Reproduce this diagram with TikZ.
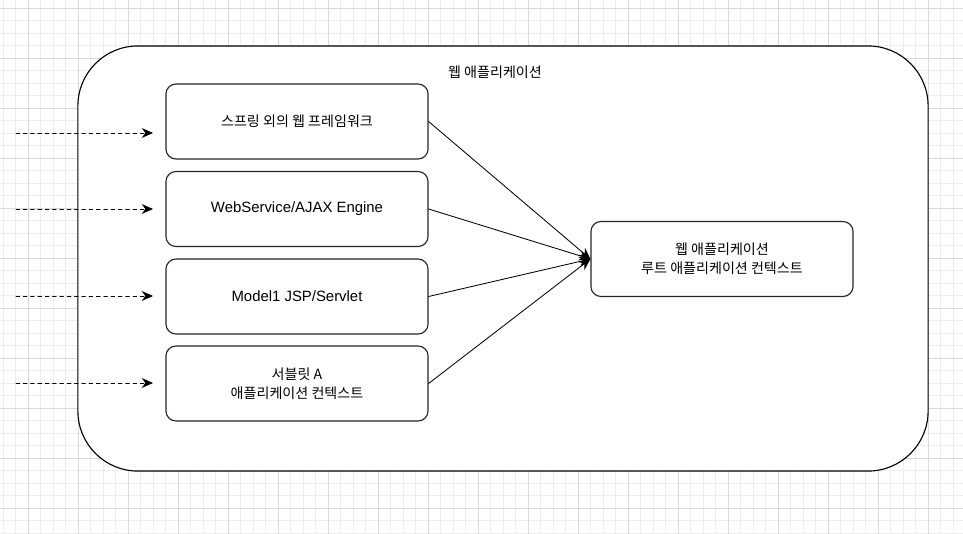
\documentclass[tikz,border=0pt]{standalone}
\usepackage{fontspec}
\setmainfont{Liberation Sans}
\newfontfamily\krfont{Noto Sans CJK KR}
\usepackage{tikz}
\usetikzlibrary{positioning,calc,arrows.meta}

\begin{document}
\begin{tikzpicture}[
	x=0.025cm,y=-0.025cm,
	>=Stealth,
	line cap=round,line join=round,
	font=\fontsize{10.6}{13}\selectfont,
	box/.style={draw=black!85, line width=0.8pt, rounded corners=0.25cm,
		fill=white, minimum width=6.55cm, minimum height=1.875cm, align=center},
	kr/.style={font=\krfont\fontsize{10}{13.8}\selectfont},
	link/.style={->, black, line width=0.6pt, -{Stealth[length=8pt,width=7pt]}},
	feed/.style={->, black, line width=0.6pt, dashed, dash pattern=on 2.6pt off 2.6pt,
		-{Stealth[length=8pt,width=7pt]}}
	]
	%----- page + background grid
	\useasboundingbox (0,0) rectangle (963,534);
	\fill[white] (0,0) rectangle (963,534);
	\foreach \gx in {3,15.5,...,963}{
		\draw[black!7, line width=0.4pt] (\gx,0) -- (\gx,534);
	}
	\foreach \gy in {8,20.5,...,534}{
		\draw[black!7, line width=0.4pt] (0,\gy) -- (963,\gy);
	}
	\foreach \gx in {28,78,...,963}{
		\draw[black!15, line width=0.4pt] (\gx,0) -- (\gx,534);
	}
	\foreach \gy in {8,58,...,534}{
		\draw[black!15, line width=0.4pt] (0,\gy) -- (963,\gy);
	}
	
	%----- outer container
	\node[draw=black, line width=0.8pt, fill=white, rounded corners=1.5cm,
		minimum width=21.25cm, minimum height=10.625cm] (webapp) at (503,258.5) {};
	\node[kr] (webappLbl) at (495,72) {웹 애플리케이션};
	
	%----- left column
	\node[box, kr] (spring)  at (297,121.5) {스프링 외의 웹 프레임워크};
	\node[box]     (ajax)    at (297,209)   {WebService/AJAX Engine};
	\node[box]     (model)   at (297,296.5) {Model1 JSP/Servlet};
	\node[box, kr] (servlet) at (297,383.5) {서블릿 A\\애플리케이션 컨텍스트};
	
	%----- root context
	\node[box, kr] (root) at (722,259) {웹 애플리케이션\\루트 애플리케이션 컨텍스트};
	
	%----- incoming requests (free ends)
	\foreach \n/\y in {1/133,2/209,3/296,4/383}{
		\coordinate (src\n) at (16,\y);
		\coordinate (dst\n) at (153,\y);
		\draw[feed] (src\n) -- (dst\n);
	}
	
	%----- links to root
	\foreach \b in {spring,ajax,model,servlet}{
		\draw[link] (\b.east) -- (root.west);
	}
\end{tikzpicture}
\end{document}
